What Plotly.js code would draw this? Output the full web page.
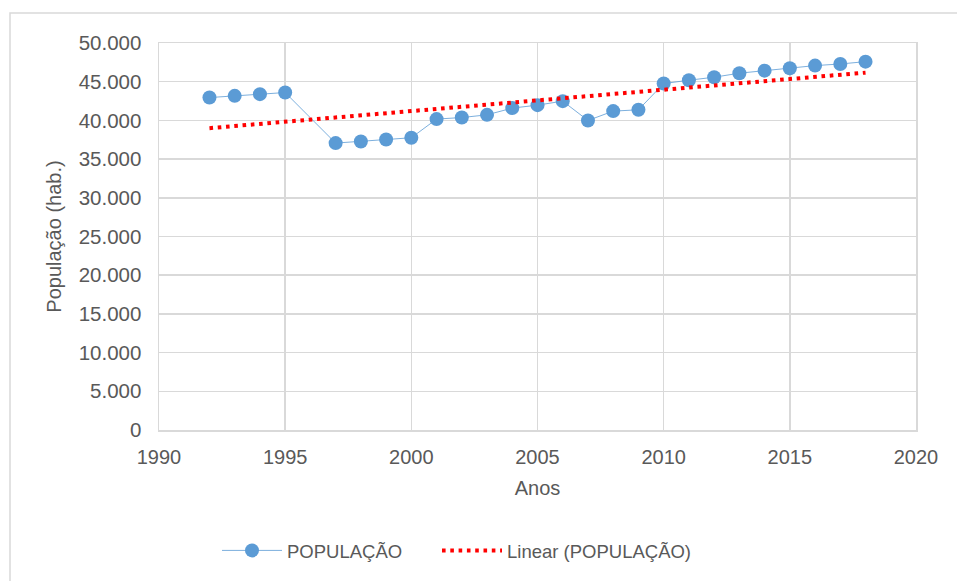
<!DOCTYPE html>
<html>
<head>
<meta charset="utf-8">
<script src="https://cdn.plot.ly/plotly-3.0.1.min.js"></script>
<style>
  html, body { margin: 0; padding: 0; background: #fff; }
  #chart { width: 957px; height: 581px; }
</style>
</head>
<body>
<div id="chart"></div>
<script>
const years = [1992, 1993, 1994, 1995, 1997, 1998, 1999, 2000, 2001, 2002, 2003, 2004, 2005,
               2006, 2007, 2008, 2009, 2010, 2011, 2012, 2013, 2014, 2015, 2016, 2017, 2018];
const population = [42950, 43170, 43390, 43600, 37070, 37280, 37540, 37760, 40170, 40370, 40720, 41590, 41970,
                    42490, 39990, 41200, 41370, 44760, 45190, 45580, 46100, 46430, 46740, 47080, 47290, 47590];
const trendYears = [1992, 2018];
const trendValues = [39000, 46170];
const seriesName = "POPULAÇÃO";
const trendName = "Linear (POPULAÇÃO)";
const xTitle = "Anos";
const yTitle = "População (hab.)";

const textColor = "#595959";
const gridColor = "#d9d9d9";
const fontFamily = "'Liberation Sans', Arial, sans-serif";

const traces = [
  {
    x: years, y: population, name: seriesName, type: "scatter", mode: "lines+markers",
    line: { color: "rgba(91,155,213,0.8)", width: 1 },
    marker: { color: "#5b9bd5", size: 14 },
    legendwidth: 145
  },
  {
    x: trendYears, y: trendValues, name: trendName, type: "scatter", mode: "lines",
    line: { color: "#ff0000", width: 4, dash: "3.6px,4.7px" },
    legendwidth: 260
  }
];

const layout = {
  width: 957, height: 581,
  margin: { l: 159, r: 41, t: 43, b: 150 },
  paper_bgcolor: "#ffffff", plot_bgcolor: "#ffffff",
  separators: ",.",
  font: { family: fontFamily, size: 20, color: textColor },
  showlegend: true,
  legend: {
    orientation: "h", x: (217 - 159) / 757, xanchor: "left", y: -0.309, yanchor: "middle",
    font: { size: 18.5, color: textColor }, itemwidth: 60
  },
  xaxis: {
    range: [1990, 2020], dtick: 5, tick0: 1990, tickformat: "d",
    showgrid: true, gridcolor: gridColor, gridwidth: 1.5,
    showline: true, linecolor: gridColor, linewidth: 1.5, mirror: true,
    zeroline: false, ticks: "", ticklabelstandoff: 8,
    title: { text: xTitle, font: { size: 20, color: textColor }, standoff: 14 }
  },
  yaxis: {
    range: [0, 50000], dtick: 5000, tickformat: ",d",
    showgrid: true, gridcolor: gridColor, gridwidth: 1.5,
    showline: true, linecolor: gridColor, linewidth: 1.5, mirror: true,
    zeroline: false, ticks: "", ticklabelstandoff: 12,
    tickfont: { size: 20.5, color: textColor },
    title: { text: yTitle, font: { size: 20, color: textColor }, standoff: 11 }
  },
  shapes: [
    { type: "rect", xref: "paper", yref: "paper",
      x0: (10 - 159) / 757, x1: (965 - 159) / 757,
      y0: (431 - 590) / 388, y1: (431 - 13) / 388,
      line: { color: gridColor, width: 1.5 }, fillcolor: "rgba(0,0,0,0)", layer: "below" }
  ]
};

Plotly.newPlot("chart", traces, layout, { displayModeBar: false, staticPlot: true });
</script>
</body>
</html>
